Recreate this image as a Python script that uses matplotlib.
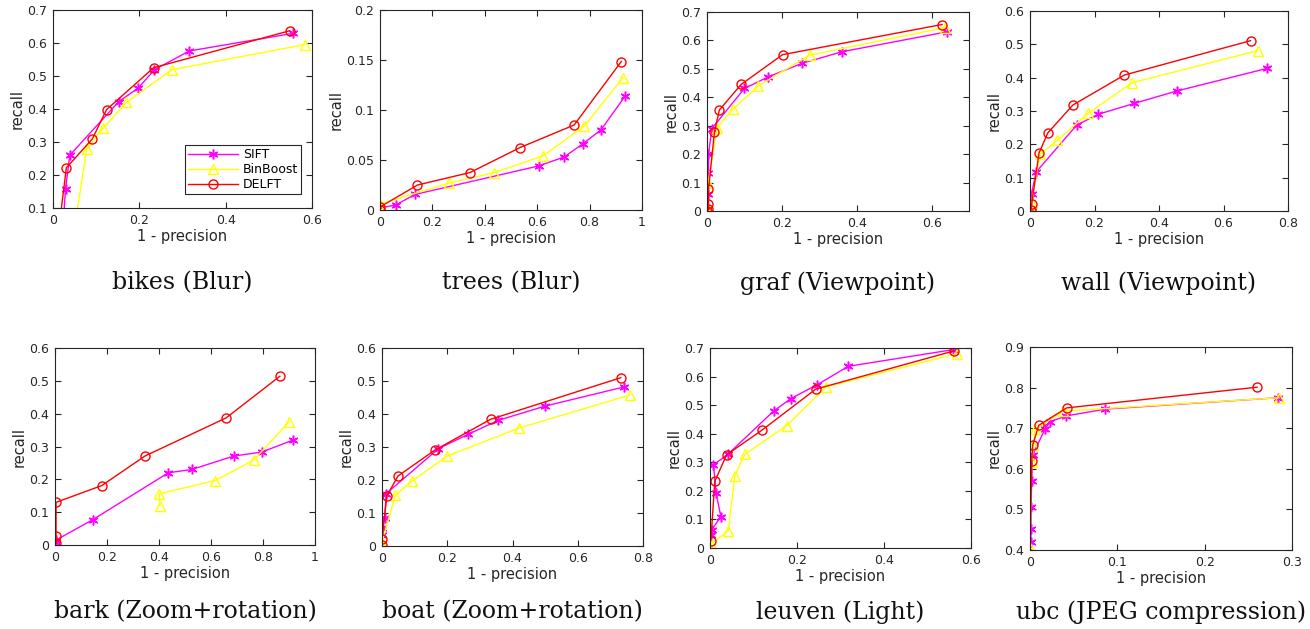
import matplotlib
matplotlib.use("Agg")
import matplotlib.pyplot as plt
import numpy as np

titles = ["bikes (Blur)", "trees (Blur)", "graf (Viewpoint)", "wall (Viewpoint)",
          "bark (Zoom+rotation)", "boat (Zoom+rotation)", "leuven (Light)", "ubc (JPEG compression)"]

xlims = [(0, 0.6), (0, 1), (0, 0.7), (0, 0.8), (0, 1), (0, 0.8), (0, 0.6), (0, 0.3)]
ylims = [(0.1, 0.7), (0, 0.2), (0, 0.7), (0, 0.6), (0, 0.6), (0, 0.6), (0, 0.7), (0.4, 0.9)]
xsteps = [0.2, 0.2, 0.2, 0.2, 0.2, 0.2, 0.2, 0.1]
ysteps = [0.1, 0.05, 0.1, 0.1, 0.1, 0.1, 0.1, 0.1]

# SIFT curves (1 - precision, recall)
sift_x = [
    [0.021, 0.029, 0.039, 0.152, 0.197, 0.235, 0.316, 0.555],
    [0.0, 0.06, 0.134, 0.605, 0.703, 0.773, 0.843, 0.936],
    [0.0, 0.002, 0.004, 0.004, 0.013, 0.1, 0.164, 0.253, 0.36, 0.64],
    [0.005, 0.005, 0.019, 0.145, 0.211, 0.324, 0.455, 0.736],
    [0.004, 0.004, 0.145, 0.436, 0.526, 0.688, 0.795, 0.917],
    [0.0, 0.0, 0.008, 0.013, 0.173, 0.263, 0.357, 0.5, 0.742],
    [0.002, 0.004, 0.025, 0.014, 0.008, 0.041, 0.146, 0.186, 0.247, 0.318, 0.558],
    [0.001, 0.001, 0.001, 0.002, 0.003, 0.017, 0.023, 0.041, 0.086, 0.284],
]
sift_y = [
    [0.0, 0.158, 0.26, 0.422, 0.463, 0.519, 0.576, 0.629],
    [0.002, 0.005, 0.0156, 0.044, 0.053, 0.066, 0.08, 0.114],
    [0.0, 0.059, 0.135, 0.2, 0.29, 0.431, 0.472, 0.519, 0.56, 0.63],
    [0.0, 0.052, 0.117, 0.258, 0.29, 0.323, 0.36, 0.428],
    [0.008, 0.015, 0.077, 0.22, 0.23, 0.271, 0.283, 0.32],
    [0.032, 0.055, 0.085, 0.159, 0.295, 0.338, 0.381, 0.424, 0.482],
    [0.047, 0.064, 0.11, 0.192, 0.291, 0.328, 0.479, 0.523, 0.572, 0.636, 0.694],
    [0.42, 0.452, 0.505, 0.57, 0.634, 0.697, 0.716, 0.73, 0.747, 0.775],
]

# BinBoost curves
binboost_x = [
    [0.045, 0.078, 0.116, 0.17, 0.275, 0.583],
    [0.0, 0.0, 0.265, 0.437, 0.622, 0.78, 0.927],
    [0.0, 0.0, 0.003, 0.027, 0.069, 0.136, 0.274, 0.635],
    [0.005, 0.005, 0.031, 0.085, 0.18, 0.317, 0.706],
    [0.404, 0.401, 0.615, 0.765, 0.901],
    [0.0, 0.0, 0.041, 0.092, 0.199, 0.421, 0.759],
    [0.0, 0.002, 0.042, 0.057, 0.08, 0.176, 0.267, 0.567],
    [0.0, 0.002, 0.004, 0.006, 0.038, 0.285],
]
binboost_y = [
    [0.0, 0.278, 0.342, 0.42, 0.519, 0.595],
    [0.002, 0.006, 0.027, 0.0375, 0.054, 0.084, 0.132],
    [0.0, 0.015, 0.097, 0.293, 0.358, 0.439, 0.548, 0.645],
    [0.0, 0.024, 0.17, 0.212, 0.293, 0.385, 0.481],
    [0.118, 0.156, 0.196, 0.259, 0.376],
    [0.0, 0.012, 0.154, 0.197, 0.272, 0.358, 0.457],
    [0.0, 0.014, 0.06, 0.253, 0.328, 0.428, 0.564, 0.68],
    [0.404, 0.617, 0.658, 0.697, 0.742, 0.775],
]

# DELFT curves
delft_x = [
    [0.01, 0.031, 0.091, 0.124, 0.233, 0.548],
    [0.0, 0.0, 0.143, 0.344, 0.535, 0.741, 0.921],
    [0.0, 0.004, 0.004, 0.004, 0.02, 0.033, 0.091, 0.202, 0.628],
    [0.003, 0.005, 0.028, 0.055, 0.133, 0.293, 0.684],
    [0.004, 0.004, 0.004, 0.18, 0.346, 0.658, 0.865],
    [0.0, 0.0, 0.015, 0.049, 0.161, 0.333, 0.732],
    [0.002, 0.011, 0.038, 0.12, 0.243, 0.561],
    [0.0, 0.002, 0.003, 0.01, 0.042, 0.26],
]
delft_y = [
    [0.0, 0.222, 0.309, 0.398, 0.525, 0.637],
    [0.0, 0.003, 0.025, 0.0375, 0.0625, 0.085, 0.1485],
    [0.0, 0.006, 0.025, 0.076, 0.279, 0.355, 0.445, 0.55, 0.656],
    [0.002, 0.02, 0.174, 0.234, 0.318, 0.408, 0.511],
    [0.005, 0.028, 0.13, 0.181, 0.271, 0.387, 0.514],
    [0.002, 0.022, 0.152, 0.212, 0.29, 0.384, 0.51],
    [0.026, 0.233, 0.326, 0.413, 0.556, 0.69],
    [0.39, 0.619, 0.658, 0.707, 0.75, 0.801],
]

# axes boxes in pixels: left, top, right, bottom
boxes = [(53, 10, 312, 208), (380, 10, 642, 210), (707, 12, 969, 211), (1030, 11, 1288, 211),
         (55, 348, 315, 545), (382, 348, 643, 546), (710, 348, 971, 548), (1030, 347, 1292, 550)]

W, H = 1310, 629
fig = plt.figure(figsize=(W / 100, H / 100), dpi=100)
dark = "#262626"
fmt = plt.FuncFormatter(lambda v, p: "%g" % round(v, 3))
asterisk = (6, 2, 0)

for i in range(8):
    l, t, r, b = boxes[i]
    ax = fig.add_axes([l / W, 1 - b / H, (r - l) / W, (b - t) / H])
    ax.plot(sift_x[i], sift_y[i], color="#ff00ff", marker=asterisk, ms=7,
            lw=1, mew=1.1, label="SIFT")
    ax.plot(binboost_x[i], binboost_y[i], color="#ffff00", marker="^", ms=7, mfc="none",
            lw=1, mew=1, label="BinBoost")
    ax.plot(delft_x[i], delft_y[i], color="#ff0000", marker="o", ms=6.5, mfc="none",
            lw=1, mew=1, label="DELFT")
    ax.set_xlim(*xlims[i])
    ax.set_ylim(*ylims[i])
    ax.set_xticks(np.arange(xlims[i][0], xlims[i][1] + 1e-9, xsteps[i]))
    ax.set_yticks(np.arange(ylims[i][0], ylims[i][1] + 1e-9, ysteps[i]))
    ax.tick_params(direction="in", top=True, right=True, labelsize=9, colors=dark,
                   length=4, pad=4)
    for s in ax.spines.values():
        s.set_color(dark)
        s.set_linewidth(0.8)
    ax.set_xlabel("1 - precision", fontsize=10.5, color=dark, labelpad=2)
    ax.set_ylabel("recall", fontsize=10.5, color=dark, labelpad=2)
    ax.xaxis.set_major_formatter(fmt)
    ax.yaxis.set_major_formatter(fmt)
    if i == 0:
        leg = ax.legend(loc="lower right", bbox_to_anchor=(1 - 11 / 259, 14 / 198),
                        borderaxespad=0, fontsize=9, fancybox=False, framealpha=1,
                        borderpad=0.25, labelspacing=0.15, handlelength=4, handletextpad=0.4)
        leg.get_frame().set_edgecolor(dark)
        leg.get_frame().set_linewidth(0.8)
    ty = 283 if i < 4 else 612
    fig.text((l + r) / 2 / W, 1 - ty / H, titles[i], ha="center", va="center",
             family="DejaVu Serif", fontsize=17, color="#111111")

fig.savefig("out.png", dpi=100)
